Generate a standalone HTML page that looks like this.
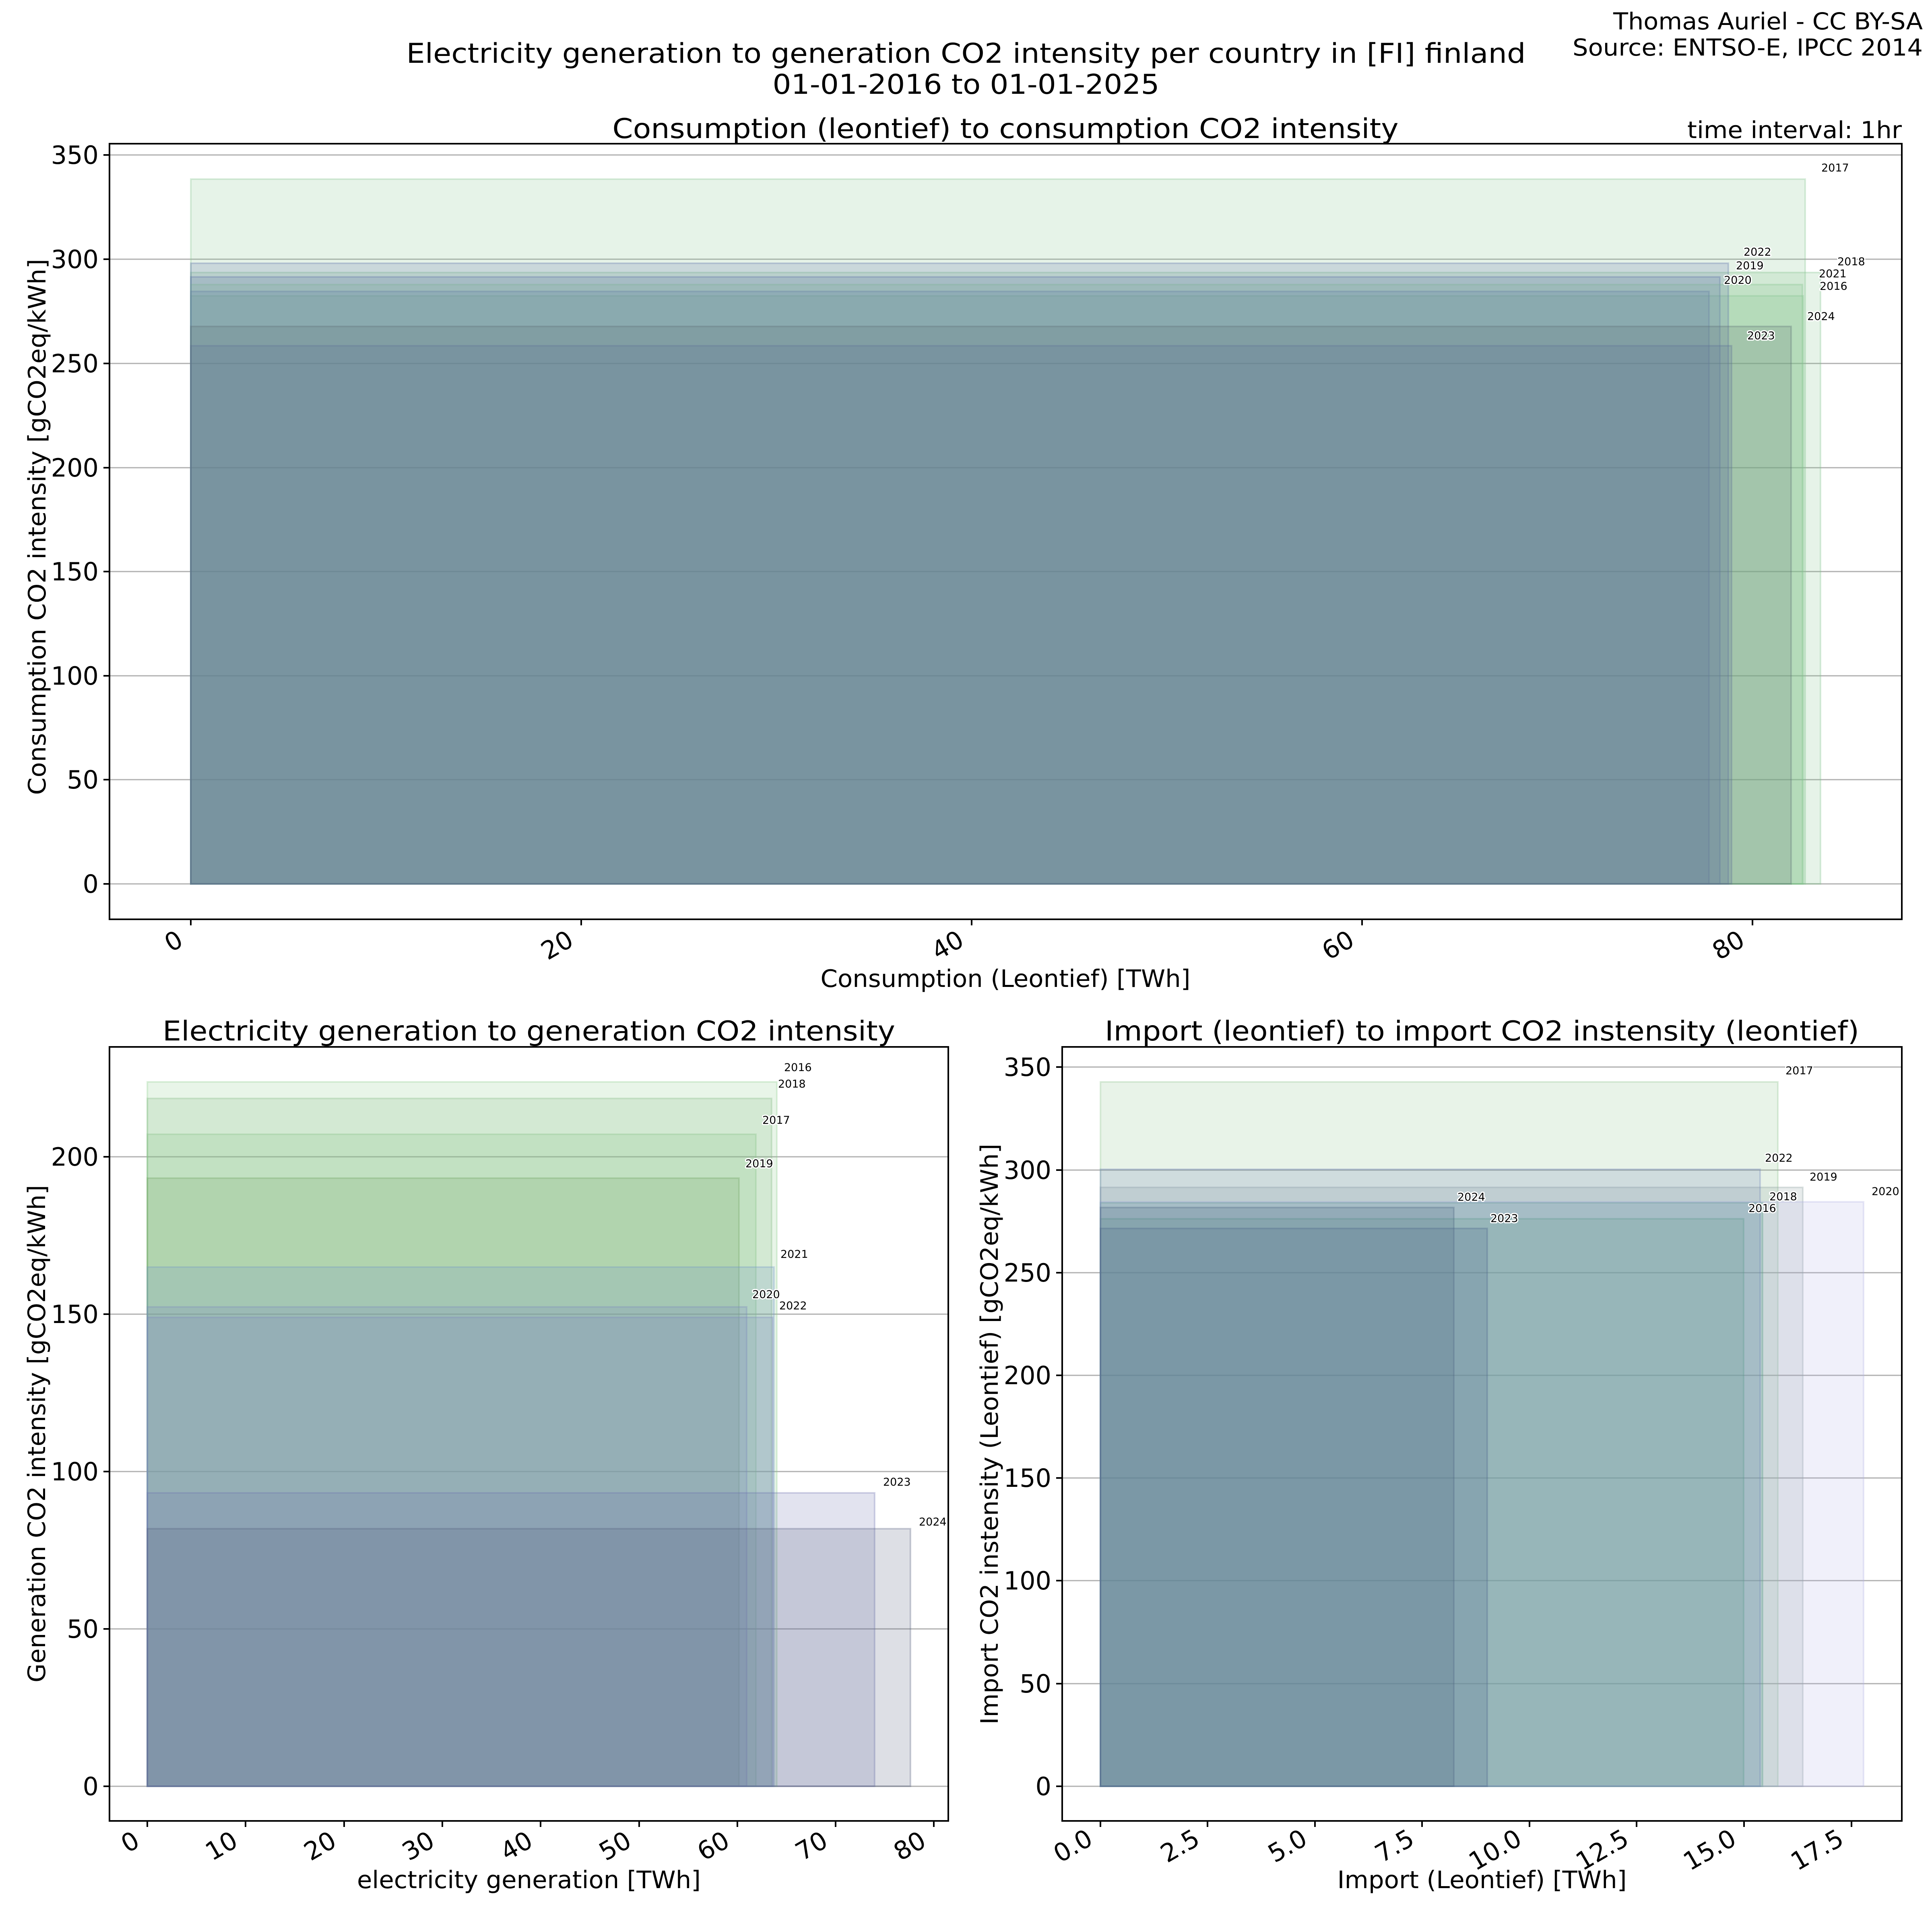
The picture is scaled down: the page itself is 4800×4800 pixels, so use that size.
<!DOCTYPE html>
<html><head><meta charset="utf-8"><style>
html,body{margin:0;padding:0;background:#fff;}
svg{display:block;font-family:"DejaVu Sans","Liberation Sans",sans-serif;}
.g{stroke:#b0b0b0;stroke-width:3}
.ax{fill:none;stroke:#000;stroke-width:4}
.tk{stroke:#000;stroke-width:4}
.tl{font-size:62px;fill:#000}
.yr{font-size:27px;fill:#000;stroke:#fff;stroke-width:6;paint-order:stroke;stroke-linejoin:round}
rect.b{fill-opacity:.2;stroke-opacity:.3;stroke-width:4}
</style></head><body>
<svg width="4800" height="4800" viewBox="0 0 4800 4800" xmlns="http://www.w3.org/2000/svg">
<rect width="4800" height="4800" fill="#fff"/>
<text x="2400" y="156" font-size="68" text-anchor="middle" textLength="2781" lengthAdjust="spacingAndGlyphs">Electricity generation to generation CO2 intensity per country in [FI] finland</text>
<text x="2400" y="233" font-size="68" text-anchor="middle" textLength="961" lengthAdjust="spacingAndGlyphs">01-01-2016 to 01-01-2025</text>
<text x="4777" y="73" font-size="58" text-anchor="end" textLength="769" lengthAdjust="spacingAndGlyphs">Thomas Auriel - CC BY-SA</text>
<text x="4777" y="138" font-size="58" text-anchor="end" textLength="870" lengthAdjust="spacingAndGlyphs">Source: ENTSO-E, IPCC 2014</text>

<!-- TOP -->
<text x="2498" y="343" font-size="68" text-anchor="middle" textLength="1953" lengthAdjust="spacingAndGlyphs">Consumption (leontief) to consumption CO2 intensity</text>
<text x="4725" y="343" font-size="58" text-anchor="end" textLength="533" lengthAdjust="spacingAndGlyphs">time interval: 1hr</text>
<g>
<line class="g" x1="272" x2="4725" y1="2196" y2="2196"/><line class="g" x1="272" x2="4725" y1="1937" y2="1937"/>
<line class="g" x1="272" x2="4725" y1="1679" y2="1679"/><line class="g" x1="272" x2="4725" y1="1420" y2="1420"/>
<line class="g" x1="272" x2="4725" y1="1162" y2="1162"/><line class="g" x1="272" x2="4725" y1="903" y2="903"/>
<line class="g" x1="272" x2="4725" y1="644" y2="644"/><line class="g" x1="272" x2="4725" y1="385" y2="385"/>
</g>
<g>
<rect class="b" x="474" y="735" width="4006" height="1461" fill="rgb(130,195,140)" stroke="rgb(130,195,140)"/>
<rect class="b" x="474" y="445" width="4011" height="1751" fill="rgb(130,195,140)" stroke="rgb(130,195,140)"/>
<rect class="b" x="474" y="677" width="4049" height="1519" fill="rgb(130,195,140)" stroke="rgb(130,195,140)"/>
<rect class="b" x="474" y="688" width="3799" height="1508" fill="rgb(92,112,170)" stroke="rgb(92,112,170)"/>
<rect class="b" x="474" y="724" width="3772" height="1472" fill="rgb(92,112,170)" stroke="rgb(92,112,170)"/>
<rect class="b" x="474" y="707" width="4004" height="1489" fill="rgb(130,195,140)" stroke="rgb(130,195,140)"/>
<rect class="b" x="474" y="654" width="3820" height="1542" fill="rgb(92,112,170)" stroke="rgb(92,112,170)"/>
<rect class="b" x="474" y="859" width="3828" height="1337" fill="rgb(92,112,160)" stroke="rgb(92,112,160)"/>
<rect class="b" x="474" y="811" width="3976" height="1385" fill="rgb(94,108,116)" stroke="rgb(94,108,116)"/>
</g>
<g>
<text class="yr" x="4525" y="426">2017</text><text class="yr" x="4332" y="635">2022</text>
<text class="yr" x="4565" y="659">2018</text><text class="yr" x="4313" y="669">2019</text>
<text class="yr" x="4519" y="689">2021</text><text class="yr" x="4283" y="705">2020</text>
<text class="yr" x="4521" y="720">2016</text><text class="yr" x="4490" y="795">2024</text>
<text class="yr" x="4341" y="843">2023</text>
</g>
<rect class="ax" x="272" y="357" width="4453" height="1927"/>
<g class="tk">
<line x1="257" x2="272" y1="2196" y2="2196"/><line x1="257" x2="272" y1="1937" y2="1937"/><line x1="257" x2="272" y1="1679" y2="1679"/><line x1="257" x2="272" y1="1420" y2="1420"/><line x1="257" x2="272" y1="1162" y2="1162"/><line x1="257" x2="272" y1="903" y2="903"/><line x1="257" x2="272" y1="644" y2="644"/><line x1="257" x2="272" y1="385" y2="385"/>
<line x1="474" x2="474" y1="2284" y2="2299"/><line x1="1444" x2="1444" y1="2284" y2="2299"/><line x1="2414" x2="2414" y1="2284" y2="2299"/><line x1="3384" x2="3384" y1="2284" y2="2299"/><line x1="4354" x2="4354" y1="2284" y2="2299"/>
</g>
<g class="tl" text-anchor="end">
<text x="245" y="2218">0</text><text x="245" y="1959">50</text><text x="245" y="1701">100</text><text x="245" y="1442">150</text><text x="245" y="1184">200</text><text x="245" y="925">250</text><text x="245" y="666">300</text><text x="245" y="407">350</text>
<text transform="translate(459,2347) rotate(-30)">0</text>
<text transform="translate(1429,2347) rotate(-30)">20</text>
<text transform="translate(2399,2347) rotate(-30)">40</text>
<text transform="translate(3369,2347) rotate(-30)">60</text>
<text transform="translate(4339,2347) rotate(-30)">80</text>
</g>
<text x="2498" y="2452" font-size="60" text-anchor="middle" textLength="919" lengthAdjust="spacingAndGlyphs">Consumption (Leontief) [TWh]</text>
<text transform="translate(113,1309) rotate(-90)" font-size="60" text-anchor="middle" textLength="1332" lengthAdjust="spacingAndGlyphs">Consumption CO2 intensity [gCO2eq/kWh]</text>

<!-- BOTTOM LEFT -->
<text x="1314" y="2585" font-size="68" text-anchor="middle" textLength="1820" lengthAdjust="spacingAndGlyphs">Electricity generation to generation CO2 intensity</text>
<g>
<line class="g" x1="272" x2="2356" y1="4438" y2="4438"/><line class="g" x1="272" x2="2356" y1="4047" y2="4047"/>
<line class="g" x1="272" x2="2356" y1="3656" y2="3656"/><line class="g" x1="272" x2="2356" y1="3265" y2="3265"/>
<line class="g" x1="272" x2="2356" y1="2874" y2="2874"/>
</g>
<g>
<rect class="b" x="366" y="2688" width="1564" height="1750" fill="rgb(140,205,140)" stroke="rgb(140,205,140)"/>
<rect class="b" x="366" y="2818" width="1512" height="1620" fill="rgb(132,194,132)" stroke="rgb(132,194,132)"/>
<rect class="b" x="366" y="2729" width="1551" height="1709" fill="rgb(132,185,132)" stroke="rgb(132,185,132)"/>
<rect class="b" x="366" y="2927" width="1470" height="1511" fill="rgb(111,161,96)" stroke="rgb(111,161,96)"/>
<rect class="b" x="366" y="3247" width="1489" height="1191" fill="rgb(127,133,189)" stroke="rgb(127,133,189)"/>
<rect class="b" x="366" y="3148" width="1557" height="1290" fill="rgb(114,148,200)" stroke="rgb(114,148,200)"/>
<rect class="b" x="366" y="3273" width="1554" height="1165" fill="rgb(127,133,189)" stroke="rgb(127,133,189)"/>
<rect class="b" x="366" y="3709" width="1807" height="729" fill="rgb(110,115,175)" stroke="rgb(110,115,175)"/>
<rect class="b" x="366" y="3798" width="1896" height="640" fill="rgb(85,95,125)" stroke="rgb(85,95,125)"/>
</g>
<g>
<text class="yr" x="1948" y="2661">2016</text><text class="yr" x="1933" y="2702">2018</text>
<text class="yr" x="1894" y="2792">2017</text><text class="yr" x="1852" y="2900">2019</text>
<text class="yr" x="1939" y="3125">2021</text><text class="yr" x="1869" y="3225">2020</text>
<text class="yr" x="1936" y="3253">2022</text><text class="yr" x="2194" y="3691">2023</text>
<text class="yr" x="2283" y="3790">2024</text>
</g>
<rect class="ax" x="272" y="2601" width="2084" height="1923"/>
<g class="tk">
<line x1="257" x2="272" y1="4438" y2="4438"/><line x1="257" x2="272" y1="4047" y2="4047"/><line x1="257" x2="272" y1="3656" y2="3656"/><line x1="257" x2="272" y1="3265" y2="3265"/><line x1="257" x2="272" y1="2874" y2="2874"/>
<line x1="366" x2="366" y1="4524" y2="4539"/><line x1="610" x2="610" y1="4524" y2="4539"/><line x1="855" x2="855" y1="4524" y2="4539"/><line x1="1099" x2="1099" y1="4524" y2="4539"/><line x1="1343" x2="1343" y1="4524" y2="4539"/><line x1="1588" x2="1588" y1="4524" y2="4539"/><line x1="1832" x2="1832" y1="4524" y2="4539"/><line x1="2076" x2="2076" y1="4524" y2="4539"/><line x1="2320" x2="2320" y1="4524" y2="4539"/>
</g>
<g class="tl" text-anchor="end">
<text x="245" y="4460">0</text><text x="245" y="4069">50</text><text x="245" y="3678">100</text><text x="245" y="3287">150</text><text x="245" y="2896">200</text>
<text transform="translate(351,4585) rotate(-30)">0</text>
<text transform="translate(595,4585) rotate(-30)">10</text>
<text transform="translate(840,4585) rotate(-30)">20</text>
<text transform="translate(1084,4585) rotate(-30)">30</text>
<text transform="translate(1328,4585) rotate(-30)">40</text>
<text transform="translate(1573,4585) rotate(-30)">50</text>
<text transform="translate(1817,4585) rotate(-30)">60</text>
<text transform="translate(2061,4585) rotate(-30)">70</text>
<text transform="translate(2305,4585) rotate(-30)">80</text>
</g>
<text x="1314" y="4691" font-size="60" text-anchor="middle" textLength="854" lengthAdjust="spacingAndGlyphs">electricity generation [TWh]</text>
<text transform="translate(112,3562) rotate(-90)" font-size="60" text-anchor="middle" textLength="1236" lengthAdjust="spacingAndGlyphs">Generation CO2 intensity [gCO2eq/kWh]</text>

<!-- BOTTOM RIGHT -->
<text x="3682" y="2585" font-size="68" text-anchor="middle" textLength="1874" lengthAdjust="spacingAndGlyphs">Import (leontief) to import CO2 instensity (leontief)</text>
<g>
<line class="g" x1="2639" x2="4725" y1="4438" y2="4438"/><line class="g" x1="2639" x2="4725" y1="4183" y2="4183"/>
<line class="g" x1="2639" x2="4725" y1="3927" y2="3927"/><line class="g" x1="2639" x2="4725" y1="3672" y2="3672"/>
<line class="g" x1="2639" x2="4725" y1="3417" y2="3417"/><line class="g" x1="2639" x2="4725" y1="3162" y2="3162"/>
<line class="g" x1="2639" x2="4725" y1="2907" y2="2907"/><line class="g" x1="2639" x2="4725" y1="2651" y2="2651"/>
</g>
<g>
<rect class="b" x="2734" y="3028" width="1598" height="1410" fill="rgb(20,150,75)" stroke="rgb(20,150,75)"/>
<rect class="b" x="2734" y="2688" width="1683" height="1750" fill="rgb(140,195,140)" stroke="rgb(140,195,140)"/>
<rect class="b" x="2734" y="2988" width="1645" height="1450" fill="rgb(40,150,95)" stroke="rgb(40,150,95)"/>
<rect class="b" x="2734" y="2950" width="1745" height="1488" fill="rgb(140,160,160)" stroke="rgb(140,160,160)"/>
<rect class="b" x="2734" y="2986" width="1896" height="1452" fill="rgb(180,180,230)" stroke="rgb(180,180,230)"/>
<rect class="b" x="2734" y="2905" width="1639" height="1533" fill="rgb(110,130,185)" stroke="rgb(110,130,185)"/>
<rect class="b" x="2734" y="3052" width="961" height="1386" fill="rgb(75,100,140)" stroke="rgb(75,100,140)"/>
<rect class="b" x="2734" y="3000" width="878" height="1438" fill="rgb(75,100,130)" stroke="rgb(75,100,130)"/>
</g>
<g>
<text class="yr" x="4436" y="2669">2017</text><text class="yr" x="4385" y="2886">2022</text>
<text class="yr" x="4496" y="2933">2019</text><text class="yr" x="4650" y="2969">2020</text>
<text class="yr" x="3621" y="2983">2024</text><text class="yr" x="4396" y="2982">2018</text>
<text class="yr" x="4344" y="3011">2016</text><text class="yr" x="3703" y="3036">2023</text>
</g>
<rect class="ax" x="2639" y="2601" width="2086" height="1923"/>
<g class="tk">
<line x1="2624" x2="2639" y1="4438" y2="4438"/><line x1="2624" x2="2639" y1="4183" y2="4183"/><line x1="2624" x2="2639" y1="3927" y2="3927"/><line x1="2624" x2="2639" y1="3672" y2="3672"/><line x1="2624" x2="2639" y1="3417" y2="3417"/><line x1="2624" x2="2639" y1="3162" y2="3162"/><line x1="2624" x2="2639" y1="2907" y2="2907"/><line x1="2624" x2="2639" y1="2651" y2="2651"/>
<line x1="2734" x2="2734" y1="4524" y2="4539"/><line x1="3000" x2="3000" y1="4524" y2="4539"/><line x1="3267" x2="3267" y1="4524" y2="4539"/><line x1="3533" x2="3533" y1="4524" y2="4539"/><line x1="3800" x2="3800" y1="4524" y2="4539"/><line x1="4066" x2="4066" y1="4524" y2="4539"/><line x1="4333" x2="4333" y1="4524" y2="4539"/><line x1="4600" x2="4600" y1="4524" y2="4539"/>
</g>
<g class="tl" text-anchor="end">
<text x="2612" y="4460">0</text><text x="2612" y="4205">50</text><text x="2612" y="3949">100</text><text x="2612" y="3694">150</text><text x="2612" y="3439">200</text><text x="2612" y="3184">250</text><text x="2612" y="2929">300</text><text x="2612" y="2673">350</text>
<text transform="translate(2719,4580) rotate(-30)">0.0</text>
<text transform="translate(2985,4580) rotate(-30)">2.5</text>
<text transform="translate(3252,4580) rotate(-30)">5.0</text>
<text transform="translate(3518,4580) rotate(-30)">7.5</text>
<text transform="translate(3785,4580) rotate(-30)">10.0</text>
<text transform="translate(4051,4580) rotate(-30)">12.5</text>
<text transform="translate(4318,4580) rotate(-30)">15.0</text>
<text transform="translate(4585,4580) rotate(-30)">17.5</text>
</g>
<text x="3682" y="4691" font-size="60" text-anchor="middle" textLength="719" lengthAdjust="spacingAndGlyphs">Import (Leontief) [TWh]</text>
<text transform="translate(2479,3563) rotate(-90)" font-size="60" text-anchor="middle" textLength="1443" lengthAdjust="spacingAndGlyphs">Import CO2 instensity (Leontief) [gCO2eq/kWh]</text>
</svg>
</body></html>
